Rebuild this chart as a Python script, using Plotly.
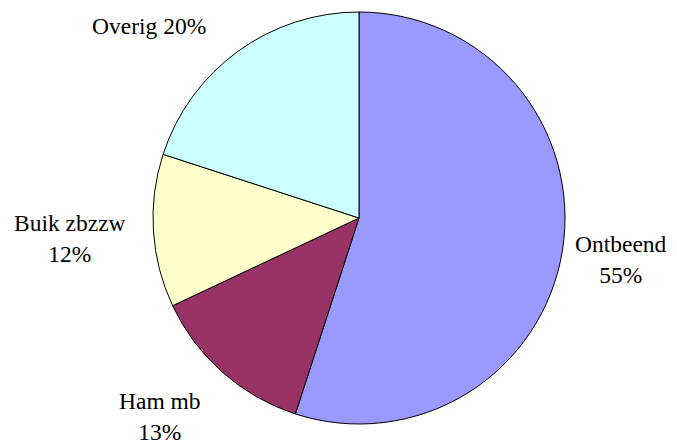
import plotly.graph_objects as go

labels = ["Ontbeend", "Ham mb", "Buik zbzzw", "Overig"]
values = [55, 13, 12, 20]
colors = ["#9999FF", "#993366", "#FFFFCC", "#CCFFFF"]
label_texts = ["Ontbeend<br>55%", "Ham mb<br>13%", "Buik zbzzw<br>12%", "Overig 20%"]
# label centres in reference pixels
label_px = [(621, 259), (160, 416), (70, 238), (149, 26)]

OFF = 8  # page body margin
W, H = 677 - OFF, 447 - OFF
T, B = 12 - OFF, 23
PH = H - T - B
cx = 359 - OFF

fig = go.Figure(go.Pie(
    labels=labels, values=values, sort=False, direction="clockwise", rotation=0,
    marker=dict(colors=colors, line=dict(color="black", width=1)),
    textinfo="none", hoverinfo="label+percent", showlegend=False,
    domain=dict(x=[cx / W - 0.35, cx / W + 0.35], y=[0, 1]),
))

for txt, (px, py) in zip(label_texts, label_px):
    fx, fy = px - OFF, py - OFF
    fig.add_annotation(text=txt, x=fx / W, y=(H - B - fy) / PH, xref="paper", yref="paper",
                       showarrow=False, xanchor="center", yanchor="middle", align="center",
                       font=dict(family="Liberation Serif", size=23.5, color="black"))

fig.update_layout(width=W, height=H, margin=dict(l=0, r=0, t=T, b=B),
                  paper_bgcolor="white", plot_bgcolor="white")
fig.write_html("out.html")
